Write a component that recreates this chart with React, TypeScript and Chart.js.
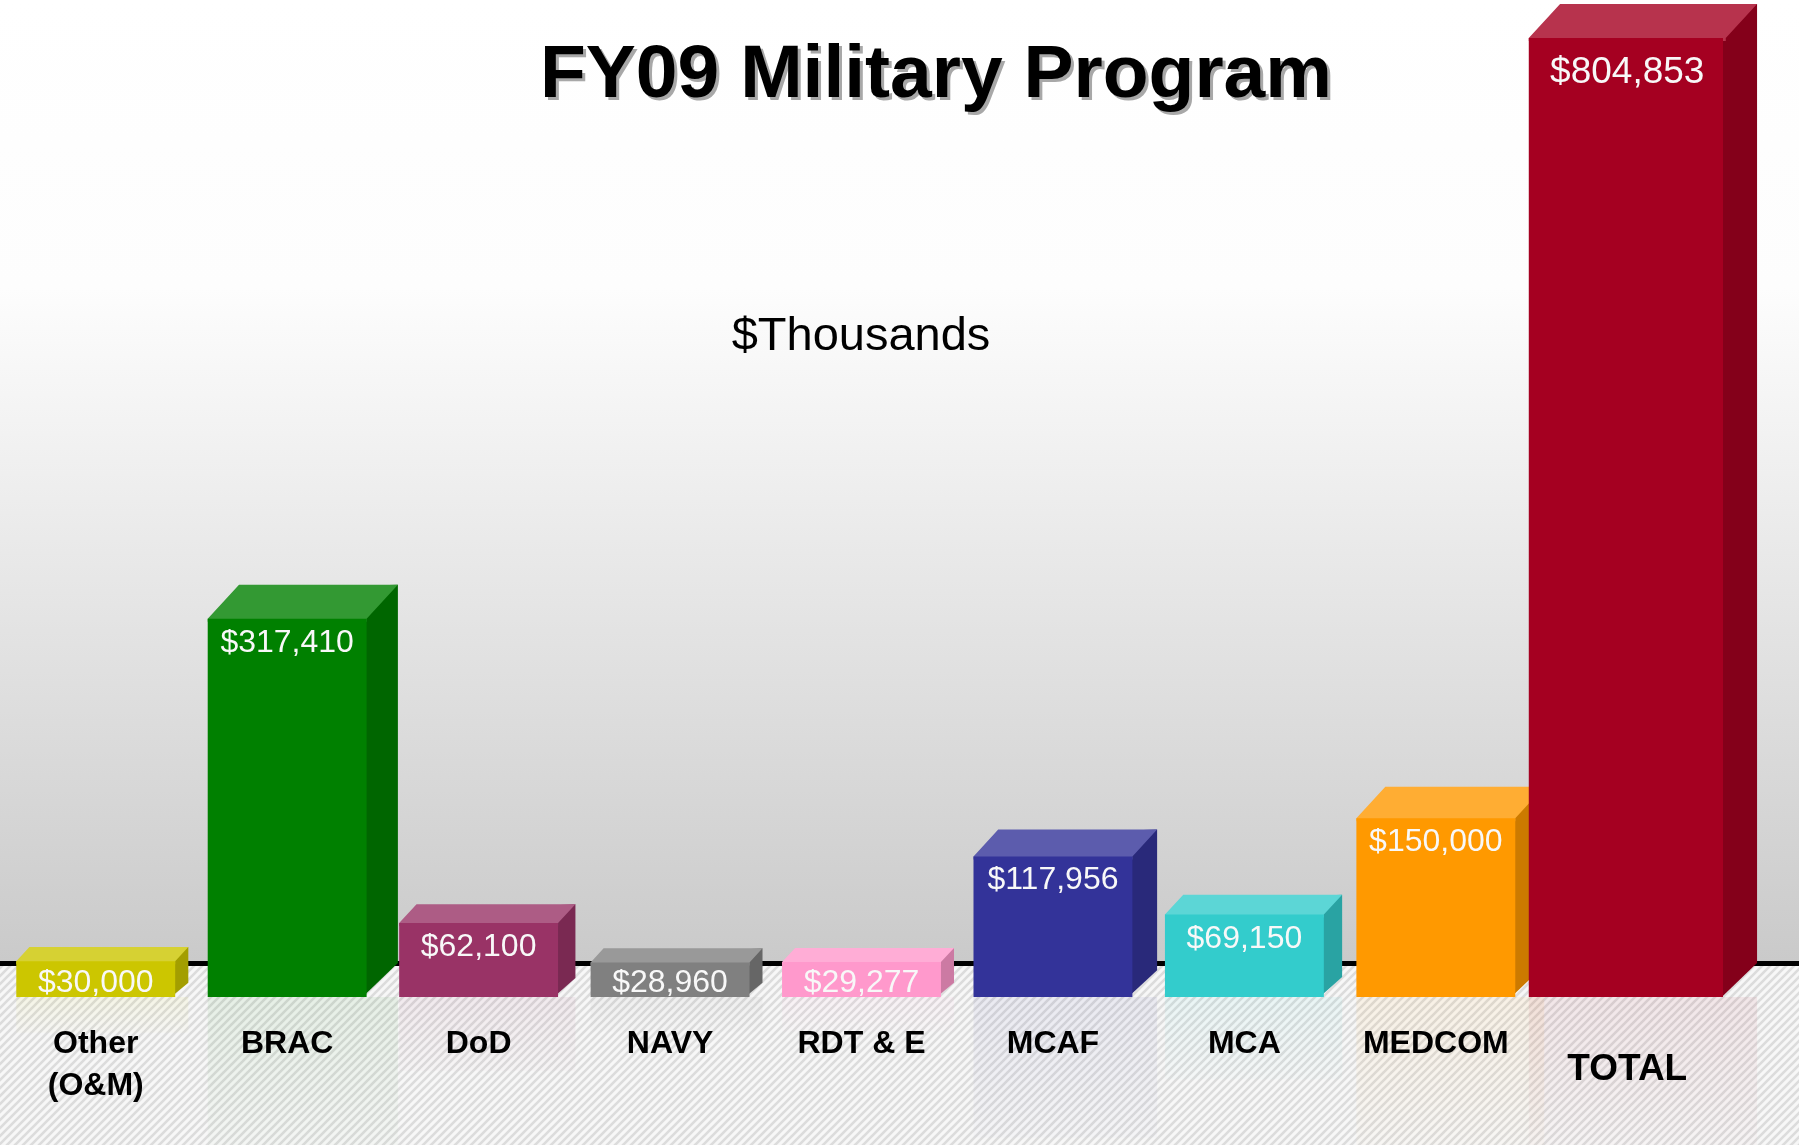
import React, { useEffect, useRef } from 'react';
import { Chart, registerables } from 'chart.js';

Chart.register(...registerables);

// ---- Data ($ thousands) ----
const titleText = 'FY09 Military Program';
const subtitleText = '$Thousands';
const categoryLabels: string[][] = [
  ['Other', '(O&M)'],
  ['BRAC'],
  ['DoD'],
  ['NAVY'],
  ['RDT & E'],
  ['MCAF'],
  ['MCA'],
  ['MEDCOM'],
  ['TOTAL'],
];
const values: number[] = [30000, 317410, 62100, 28960, 29277, 117956, 69150, 150000, 804853];
const valueLabels: string[] = ['$30,000', '$317,410', '$62,100', '$28,960', '$29,277', '$117,956', '$69,150', '$150,000', '$804,853'];
const barColors: string[] = ['#CCC600', '#008000', '#993366', '#808080', '#FF99CC', '#333399', '#33CCCC', '#FF9900', '#A50021'];
const totalIndex = 8;

const FONT = '"Liberation Sans", Arial, Helvetica, sans-serif';

function hexToRgb(hex: string): [number, number, number] {
  const h = hex.replace('#', '');
  return [parseInt(h.slice(0, 2), 16), parseInt(h.slice(2, 4), 16), parseInt(h.slice(4, 6), 16)];
}
function lighten(hex: string, t: number): string {
  const [r, g, b] = hexToRgb(hex);
  return `rgb(${Math.round(r + (255 - r) * t)},${Math.round(g + (255 - g) * t)},${Math.round(b + (255 - b) * t)})`;
}
function darken(hex: string, f: number): string {
  const [r, g, b] = hexToRgb(hex);
  return `rgb(${Math.round(r * f)},${Math.round(g * f)},${Math.round(b * f)})`;
}
function rgba(hex: string, a: number): string {
  const [r, g, b] = hexToRgb(hex);
  return `rgba(${r},${g},${b},${a})`;
}

type BarGeom = { i: number; left: number; right: number; top: number; bottom: number; dx: number; dy: number };

function collectBars(chart: any): BarGeom[] {
  const out: BarGeom[] = [];
  chart.data.datasets.forEach((ds: any, d: number) => {
    const meta = chart.getDatasetMeta(d);
    meta.data.forEach((bar: any, i: number) => {
      if (ds.data[i] == null) return;
      const p = bar.getProps(['x', 'y', 'base', 'width'], true);
      const h = p.base - p.y;
      const depth = Math.min(34, 10 + 0.12 * h);
      out.push({
        i,
        left: p.x - p.width / 2,
        right: p.x + p.width / 2,
        top: p.y,
        bottom: p.base,
        dx: depth * 0.92,
        dy: depth,
      });
    });
  });
  return out;
}

const decorPlugin = {
  id: 'fy09Decor',
  beforeDraw(chart: any) {
    const ctx: CanvasRenderingContext2D = chart.ctx;
    const W = chart.width;
    const H = chart.height;
    const lineY = 961;
    ctx.save();
    // wall gradient
    const g = ctx.createLinearGradient(0, 0, 0, lineY);
    g.addColorStop(0, '#ffffff');
    g.addColorStop(0.3, '#fdfdfd');
    g.addColorStop(1, '#cacaca');
    ctx.fillStyle = g;
    ctx.fillRect(0, 0, W, lineY);
    // floor hatch
    const pc = document.createElement('canvas');
    pc.width = 8;
    pc.height = 8;
    const p = pc.getContext('2d') as CanvasRenderingContext2D;
    p.fillStyle = '#f7f7f7';
    p.fillRect(0, 0, 8, 8);
    p.strokeStyle = '#dcdcdc';
    p.lineWidth = 2.6;
    p.beginPath();
    p.moveTo(-2, 10);
    p.lineTo(10, -2);
    p.moveTo(-6, 6);
    p.lineTo(6, -6);
    p.moveTo(2, 14);
    p.lineTo(14, 2);
    p.stroke();
    const pat = ctx.createPattern(pc, 'repeat');
    if (pat) ctx.fillStyle = pat;
    ctx.fillRect(0, lineY, W, H - lineY);
    // faint reflections of the bars on the floor
    collectBars(chart).forEach((b) => {
      const h = Math.min(b.bottom - b.top, H - b.bottom);
      const rg = ctx.createLinearGradient(0, b.bottom, 0, b.bottom + h);
      rg.addColorStop(0, rgba(barColors[b.i], 0.07));
      rg.addColorStop(1, rgba(barColors[b.i], 0.015));
      ctx.fillStyle = rg;
      ctx.fillRect(b.left, b.bottom, b.right - b.left + b.dx, h);
    });
    // floor line
    ctx.fillStyle = '#000000';
    ctx.fillRect(0, lineY, W, 5);
    ctx.restore();
  },
  beforeDatasetsDraw(chart: any) {
    // top and side faces drawn behind the front faces, so the fronts cover the joins
    const ctx: CanvasRenderingContext2D = chart.ctx;
    ctx.save();
    collectBars(chart).forEach((b) => {
      const c = barColors[b.i];
      ctx.fillStyle = darken(c, 0.8);
      ctx.beginPath();
      ctx.moveTo(b.right - 3, b.top);
      ctx.lineTo(b.right - 3, b.top - b.dy + 1);
      ctx.lineTo(b.right + b.dx, b.top - b.dy);
      ctx.lineTo(b.right + b.dx, b.bottom - b.dy);
      ctx.lineTo(b.right - 3, b.bottom - 1);
      ctx.closePath();
      ctx.fill();
      ctx.fillStyle = lighten(c, 0.2);
      ctx.beginPath();
      ctx.moveTo(b.left, b.top + 3);
      ctx.lineTo(b.left, b.top);
      ctx.lineTo(b.left + b.dx, b.top - b.dy);
      ctx.lineTo(b.right + b.dx, b.top - b.dy);
      ctx.lineTo(b.right, b.top);
      ctx.lineTo(b.right, b.top + 3);
      ctx.closePath();
      ctx.fill();
    });
    ctx.restore();
  },
  afterDatasetsDraw(chart: any) {
    const ctx: CanvasRenderingContext2D = chart.ctx;
    ctx.save();
    const bars = collectBars(chart);
    // value labels
    ctx.textAlign = 'center';
    ctx.textBaseline = 'alphabetic';
    bars.forEach((b) => {
      const isTotal = b.i === totalIndex;
      const size = isTotal ? 37 : 32;
      const h = b.bottom - b.top;
      const cap = size * 0.716;
      const baseline = isTotal ? b.top + 45 : b.top + Math.min(33, (h + cap) / 2 + 1);
      ctx.font = `${size}px ${FONT}`;
      ctx.fillStyle = '#f8f8f8';
      ctx.fillText(valueLabels[b.i], (b.left + b.right) / 2, baseline);
    });
    // category labels
    bars.forEach((b) => {
      const isTotal = b.i === totalIndex;
      const size = isTotal ? 37 : 32;
      ctx.font = `bold ${size}px ${FONT}`;
      ctx.fillStyle = '#000000';
      const lines = categoryLabels[b.i];
      const y0 = b.bottom + (isTotal ? 83 : 56);
      lines.forEach((ln, k) => {
        ctx.fillText(ln, (b.left + b.right) / 2, y0 + k * 42);
      });
    });
    ctx.restore();
  },
  afterDraw(chart: any) {
    const ctx: CanvasRenderingContext2D = chart.ctx;
    ctx.save();
    ctx.textAlign = 'center';
    ctx.textBaseline = 'alphabetic';
    ctx.font = `bold 75px ${FONT}`;
    ctx.shadowColor = '#a8a8a8';
    ctx.shadowOffsetX = 3;
    ctx.shadowOffsetY = 3;
    ctx.shadowBlur = 0;
    ctx.fillStyle = '#000000';
    ctx.fillText(titleText, 936, 97);
    ctx.shadowColor = 'transparent';
    ctx.shadowOffsetX = 0;
    ctx.shadowOffsetY = 0;
    ctx.font = `47px ${FONT}`;
    ctx.fillText(subtitleText, 861, 350);
    ctx.restore();
  },
};

export default function App() {
  const canvasRef = useRef<HTMLCanvasElement | null>(null);

  useEffect(() => {
    document.body.style.margin = '0';
    const canvas = canvasRef.current;
    if (!canvas) return;
    const programData = values.map((v, i) => (i === totalIndex ? null : v));
    const totalData = values.map((v, i) => (i === totalIndex ? v : null));
    const chart = new Chart(canvas, {
      type: 'bar',
      data: {
        labels: categoryLabels as any,
        datasets: [
          {
            label: 'Program',
            data: programData as any,
            backgroundColor: barColors,
            borderWidth: 0,
            inflateAmount: 0,
            barPercentage: 0.83,
            categoryPercentage: 1,
            grouped: false,
          } as any,
          {
            label: 'Total',
            data: totalData as any,
            backgroundColor: barColors,
            borderWidth: 0,
            inflateAmount: 0,
            barThickness: 197,
            grouped: false,
          } as any,
        ],
      },
      options: {
        responsive: false,
        animation: false,
        devicePixelRatio: 1,
        layout: { padding: { top: 20, bottom: 148, left: 0, right: 76 } },
        scales: {
          x: { display: false },
          y: { display: false, min: 0, max: 820000 },
        },
        plugins: {
          legend: { display: false },
          tooltip: { enabled: false },
          title: { display: false },
        },
      },
      plugins: [decorPlugin],
    });
    return () => chart.destroy();
  }, []);

  return (
    <div style={{ width: 1799, height: 1145, overflow: 'hidden' }}>
      <canvas ref={canvasRef} width={1799} height={1145} style={{ display: 'block' }} />
    </div>
  );
}
